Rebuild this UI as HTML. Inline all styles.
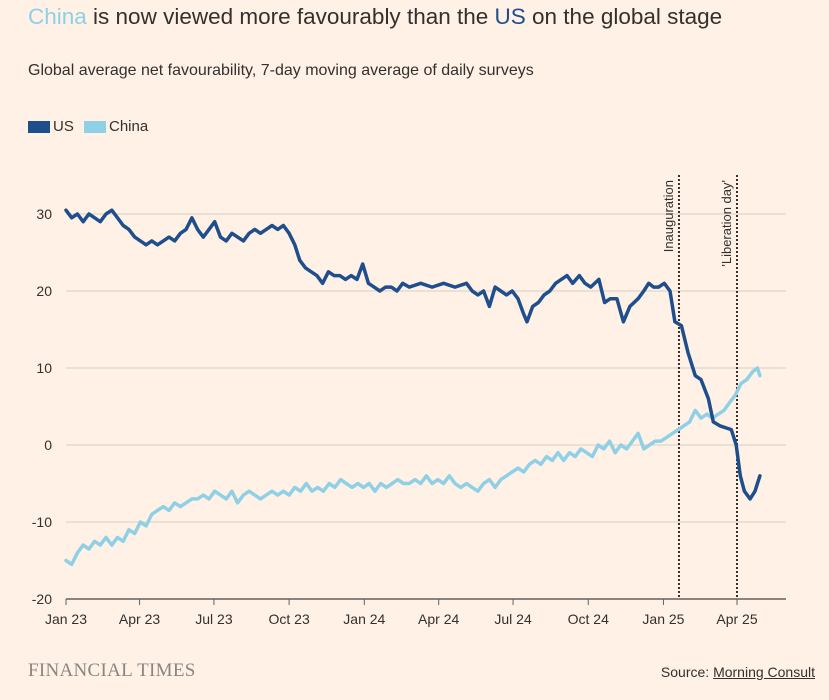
<!DOCTYPE html>
<html><head><meta charset="utf-8">
<style>
body{margin:0;background:#fff1e5;font-family:"Liberation Sans",sans-serif;color:#33302e;}
#wrap{position:relative;width:829px;height:700px;overflow:hidden;}
.title{position:absolute;left:28px;top:4px;font-size:22.5px;color:#33302e;white-space:nowrap;}
.sub{position:absolute;left:28px;top:62px;font-size:16px;white-space:nowrap;}
.leg{position:absolute;top:118px;font-size:15px;display:flex;align-items:center;}
.sw{display:inline-block;width:22px;height:12px;margin-right:3px;}
.ft{position:absolute;left:28px;top:660px;font-family:"Liberation Serif",serif;font-size:19px;color:#8a8580;letter-spacing:0.3px;}
.src{position:absolute;right:14px;top:664px;font-size:14px;}
</style></head><body>
<div id="wrap">
<div class="title"><span style="color:#8fd0e6">China</span> is now viewed more favourably than the <span style="color:#1f4e8c">US</span> on the global stage</div>
<div class="sub">Global average net favourability, 7-day moving average of daily surveys</div>
<div class="leg" style="left:28px"><span class="sw" style="background:#1f4e8c"></span>US</div>
<div class="leg" style="left:84px"><span class="sw" style="background:#8fd0e6"></span>China</div>
<svg id="chart" width="829" height="700" style="position:absolute;left:0;top:0"></svg>
<div class="ft">FINANCIAL TIMES</div>
<div class="src">Source: <u>Morning Consult</u></div>
</div>
<script>
const yTicks=[30,20,10,0,-10,-20];
const xTickDays=[0,90,181,273,365,456,547,639,731,821];
const xTickLabels=["Jan 23","Apr 23","Jul 23","Oct 23","Jan 24","Apr 24","Jul 24","Oct 24","Jan 25","Apr 25"];
const usDays=[0,7,14,21,28,35,42,49,56,63,70,77,84,91,98,105,112,119,126,133,140,147,154,161,168,175,182,189,196,203,210,217,224,231,238,245,252,259,266,273,280,286,293,300,307,314,321,328,335,342,349,356,363,370,377,384,391,398,405,412,420,434,448,462,476,490,497,504,511,518,525,532,539,546,553,560,564,571,578,585,592,599,606,613,620,628,635,642,652,659,666,674,682,690,700,707,713,719,725,732,739,745,753,761,770,777,786,792,800,814,820,825,830,837,843,849];
const usVals=[30.5,29.5,30,29,30,29.5,29,30,30.5,29.5,28.5,28,27,26.5,26,26.5,26,26.5,27,26.5,27.5,28,29.5,28,27,28,29,27,26.5,27.5,27,26.5,27.5,28,27.5,28,28.5,28,28.5,27.5,26,24,23,22.5,22,21,22.5,22,22,21.5,22,21.5,23.5,21,20.5,20,20.5,20.5,20,21,20.5,21,20.5,21,20.5,21,20,19.5,20,18,20.5,20,19.5,20,19,17,16,18,18.5,19.5,20,21,21.5,22,21,22,21,20.5,21.5,18.5,19,19,16,18,19,20,21,20.5,20.5,21,20,16,15.5,12,9,8.5,6,3,2.5,2,0,-4,-6,-7,-6,-4];
const chDays=[0,7,14,21,28,35,42,49,56,63,70,77,84,91,98,105,112,119,126,133,140,147,154,161,168,175,182,189,196,203,210,217,224,231,238,245,252,259,266,273,280,287,294,301,308,315,322,329,336,343,350,357,364,371,378,385,392,399,406,413,420,427,434,441,448,455,462,469,476,483,490,497,504,511,518,525,532,539,546,553,560,567,574,581,588,595,602,609,616,623,630,637,644,651,658,665,672,679,686,693,700,707,714,721,728,735,742,749,756,763,770,777,784,791,798,805,812,819,826,833,840,846,849];
const chVals=[-15,-15.5,-14,-13,-13.5,-12.5,-13,-12,-13,-12,-12.5,-11,-11.5,-10,-10.5,-9,-8.5,-8,-8.5,-7.5,-8,-7.5,-7,-7,-6.5,-7,-6,-6.5,-7,-6,-7.5,-6.5,-6,-6.5,-7,-6.5,-6,-6.5,-6,-6.5,-5.5,-6,-5,-6,-5.5,-6,-5,-5.5,-4.5,-5,-5.5,-5,-5.5,-5,-6,-5,-5.5,-5,-4.5,-5,-5,-4.5,-5,-4,-5,-4.5,-5,-4,-5,-5.5,-5,-5.5,-6,-5,-4.5,-5.5,-4.5,-4,-3.5,-3,-3.5,-2.5,-2,-2.5,-1.5,-2,-1,-2,-1,-1.5,-0.5,-1,-1.5,0,-0.5,0.5,-1,0,-0.5,0.5,1.5,-0.5,0,0.5,0.5,1,1.5,2,2.5,3,4.5,3.5,4,3.5,4,4.5,5.5,6.5,8,8.5,9.5,10,9];
const annDays=[750,821];
const annLabels=["Inauguration","'Liberation day'"];

const NS="http://www.w3.org/2000/svg";
const svg=document.getElementById('chart');
const X0=66,X1=786;
const xs=d=>66+d*(737-66)/821;
const ys=v=>445-v*7.7;
function mk(t,a){const e=document.createElementNS(NS,t);for(const k in a)e.setAttribute(k,a[k]);svg.appendChild(e);return e;}
yTicks.forEach(v=>{
 if(v!==-20){const g=mk('line',{x1:X0,x2:X1,y1:ys(v),y2:ys(v),stroke:'#d9cdc3','stroke-width':1});
 
 }
 const t=mk('text',{x:52,y:ys(v)+5,'text-anchor':'end','font-size':14,fill:'#33302e','font-family':'Liberation Sans'});
 t.textContent=v;
 
 
});
const ax=mk('line',{x1:X0,x2:X1,y1:ys(-20),y2:ys(-20),stroke:'#66605c','stroke-width':1.5});


xTickDays.forEach((d,i)=>{
 const tk=mk('line',{x1:xs(d),x2:xs(d),y1:ys(-20),y2:ys(-20)+6,stroke:'#66605c','stroke-width':1});
 
 
 const t=mk('text',{x:xs(d),y:624,'text-anchor':'middle','font-size':14,fill:'#33302e','font-family':'Liberation Sans'});
 t.textContent=xTickLabels[i];
 
 
});
annDays.forEach((d,i)=>{
 const l=mk('line',{x1:xs(d),x2:xs(d),y1:175,y2:ys(-20),stroke:'#33302e','stroke-width':2,'stroke-dasharray':'2,2'});
 
 
 const t=mk('text',{transform:`translate(${xs(d)-6},180) rotate(-90)`,'text-anchor':'end','font-size':13,fill:'#33302e','font-family':'Liberation Sans'});
 t.textContent=annLabels[i];
 
 
});
function line(days,vals,col,name){
 const d=days.map((dd,i)=>(i?'L':'M')+xs(dd).toFixed(1)+','+ys(vals[i]).toFixed(1)).join('');
 const p=mk('path',{d:d,fill:'none',stroke:col,'stroke-width':3.5,'stroke-linejoin':'round','stroke-linecap':'round'});
 
 
}
line(chDays,chVals,'#8fd0e6','china-line');
line(usDays,usVals,'#1f4e8c','us-line');
</script>
</body></html>
